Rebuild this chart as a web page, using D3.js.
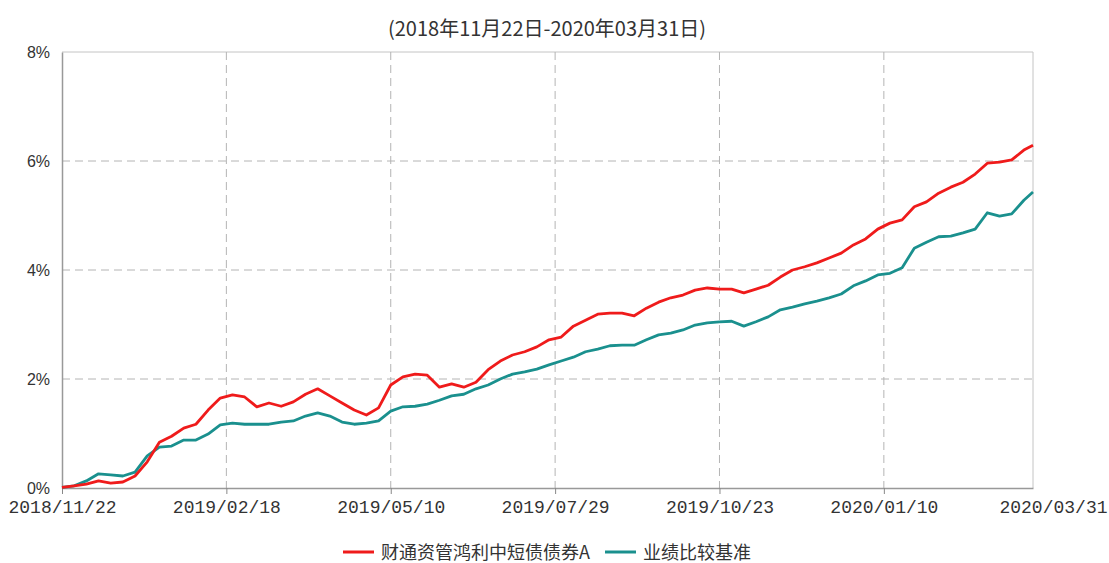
<!DOCTYPE html>
<html>
<head>
<meta charset="utf-8">
<script src="https://cdn.jsdelivr.net/npm/d3@7/dist/d3.min.js"></script>
<style>
  html, body { margin: 0; padding: 0; background: #fff; }
  svg { display: block; }
</style>
</head>
<body>
<svg id="chart" width="1109" height="563"></svg>
<script>
// ---- data ----
const titleText = "(2018年11月22日-2020年03月31日)";
const seriesNames = ["财通资管鸿利中短债债券A", "业绩比较基准"];
const seriesColors = ["#ef1b1b", "#1a908e"];

// trading-day index of each sample
const dayIndex = [0,4,8,12,16,20,24,28,32,36,40,44,48,52,56,60,64,68,72,76,
  80,84,88,92,96,100,104,108,112,116,120,124,128,132,136,140,144,148,152,156,
  160,164,168,172,176,180,184,188,192,196,200,204,208,212,216,220,224,228,232,236,
  240,244,248,252,256,260,264,268,272,276,280,284,288,292,296,300,304,308,312,316,319];

// cumulative return (%)
const fundValues = [0.01,0.04,0.07,0.13,0.09,0.11,0.22,0.48,0.84,0.95,1.10,1.17,1.43,1.65,1.71,1.67,1.49,1.56,1.50,1.58,
  1.72,1.82,1.69,1.56,1.43,1.34,1.47,1.89,2.04,2.09,2.07,1.85,1.91,1.85,1.94,2.17,2.33,2.44,2.50,2.59,
  2.72,2.77,2.97,3.08,3.19,3.21,3.21,3.16,3.30,3.41,3.49,3.54,3.63,3.67,3.65,3.65,3.58,3.65,3.72,3.87,
  4.00,4.06,4.13,4.22,4.31,4.46,4.57,4.75,4.86,4.92,5.16,5.25,5.41,5.52,5.61,5.76,5.96,5.98,6.02,6.20,6.29];

const benchValues = [0.01,0.04,0.13,0.26,0.24,0.22,0.29,0.59,0.75,0.77,0.88,0.88,0.99,1.16,1.19,1.17,1.17,1.17,1.21,1.23,
  1.32,1.38,1.32,1.21,1.17,1.19,1.23,1.41,1.49,1.50,1.54,1.61,1.69,1.72,1.82,1.89,2.00,2.09,2.13,2.18,
  2.26,2.33,2.40,2.50,2.55,2.61,2.62,2.62,2.72,2.81,2.84,2.90,2.99,3.03,3.05,3.06,2.97,3.05,3.14,3.27,
  3.32,3.38,3.43,3.49,3.56,3.71,3.80,3.91,3.94,4.04,4.40,4.51,4.61,4.62,4.68,4.75,5.05,4.99,5.03,5.28,5.43];

const xTickIndex = [0, 54, 108, 162, 216, 270, 319];
const xTickLabels = ["2018/11/22", "2019/02/18", "2019/05/10", "2019/07/29", "2019/10/23", "2020/01/10", "2020/03/31"];
const yTicks = [0, 2, 4, 6, 8];

// ---- layout ----
const svg = d3.select("#chart");
const margin = { left: 62, right: 1109 - 1033, top: 52, bottom: 563 - 488 };
const W = 1109, H = 563;
const x = d3.scaleLinear().domain([0, 319]).range([margin.left, W - margin.right]);
const y = d3.scaleLinear().domain([0, 8]).range([H - margin.bottom, margin.top]);

const sansFont = "'Liberation Sans', Arial, sans-serif";
const cjkFont = "'Noto Sans CJK SC', 'Liberation Sans', sans-serif";
const monoFont = "'Liberation Mono', 'DejaVu Sans Mono', monospace";

// title
svg.append("text")
  .attr("x", 547).attr("y", 27)
  .attr("text-anchor", "middle").attr("dominant-baseline", "central")
  .style("font-family", cjkFont).style("font-size", "20px").style("fill", "#333")
  .text(titleText);

// horizontal grid (dashed), top border solid
const gridColor = "#b4b4b4";
svg.append("g").selectAll("line").data(yTicks.filter(d => d > 0 && d < 8)).join("line")
  .attr("x1", x(0)).attr("x2", x(319))
  .attr("y1", d => y(d)).attr("y2", d => y(d))
  .attr("stroke", gridColor).attr("stroke-width", 1).attr("stroke-dasharray", "8,5");
svg.append("line")
  .attr("x1", x(0)).attr("x2", x(319)).attr("y1", y(8)).attr("y2", y(8))
  .attr("stroke", "#c4c4c4").attr("stroke-width", 1);
// right border
svg.append("line")
  .attr("x1", x(319)).attr("x2", x(319)).attr("y1", y(8)).attr("y2", y(0))
  .attr("stroke", "#c4c4c4").attr("stroke-width", 1);

// vertical grid (dashed)
svg.append("g").selectAll("line").data(xTickIndex.slice(1, -1)).join("line")
  .attr("x1", d => x(d)).attr("x2", d => x(d))
  .attr("y1", y(8)).attr("y2", y(0))
  .attr("stroke", gridColor).attr("stroke-width", 1).attr("stroke-dasharray", "8,5");

// y axis
const yAxis = d3.axisLeft(y).tickValues(yTicks).tickFormat(d => d + "%").tickSize(0).tickPadding(12);
const gy = svg.append("g").attr("transform", `translate(${x(0)},0)`).call(yAxis);
gy.select(".domain").attr("stroke", "#999").attr("stroke-width", 1.5);
gy.selectAll("text").style("font-family", sansFont).style("font-size", "16px").style("fill", "#333");

// x axis
const xAxis = d3.axisBottom(x).tickValues(xTickIndex)
  .tickFormat((d, i) => xTickLabels[i]).tickSize(6).tickSizeOuter(0).tickPadding(6);
const gx = svg.append("g").attr("transform", `translate(0,${y(0)})`).call(xAxis);
gx.select(".domain").attr("stroke", "#999").attr("stroke-width", 1.5);
gx.selectAll(".tick line").attr("stroke", "#888");
gx.selectAll("text").style("font-family", monoFont).style("font-size", "18px").style("fill", "#333");
gx.selectAll(".tick").filter((d, i) => i === xTickIndex.length - 1)
  .select("text").attr("text-anchor", "end").attr("x", 1107 - x(319));
gx.selectAll(".tick").filter((d, i) => i === xTickIndex.length - 1).select("line").remove();

// lines
const line = d3.line().x(d => x(d[0])).y(d => y(d[1])).curve(d3.curveLinear);
const allSeries = [fundValues, benchValues];
// draw benchmark first, then fund on top
[1, 0].forEach(k => {
  const pts = dayIndex.map((d, i) => [d, allSeries[k][i]]);
  svg.append("path").datum(pts)
    .attr("fill", "none").attr("stroke", seriesColors[k])
    .attr("stroke-width", 2.8).attr("stroke-linejoin", "round")
    .attr("d", line);
});

// legend
const legendItems = [
  { name: seriesNames[0], color: seriesColors[0], x: 343 },
  { name: seriesNames[1], color: seriesColors[1], x: 605 }
];
const lg = svg.append("g");
legendItems.forEach(it => {
  lg.append("line").attr("x1", it.x).attr("x2", it.x + 31).attr("y1", 552).attr("y2", 552)
    .attr("stroke", it.color).attr("stroke-width", 3);
  lg.append("text").attr("x", it.x + 38).attr("y", 551).attr("dominant-baseline", "central")
    .style("font-family", cjkFont).style("font-size", "18px").style("fill", "#333")
    .text(it.name);
});
</script>
</body>
</html>
